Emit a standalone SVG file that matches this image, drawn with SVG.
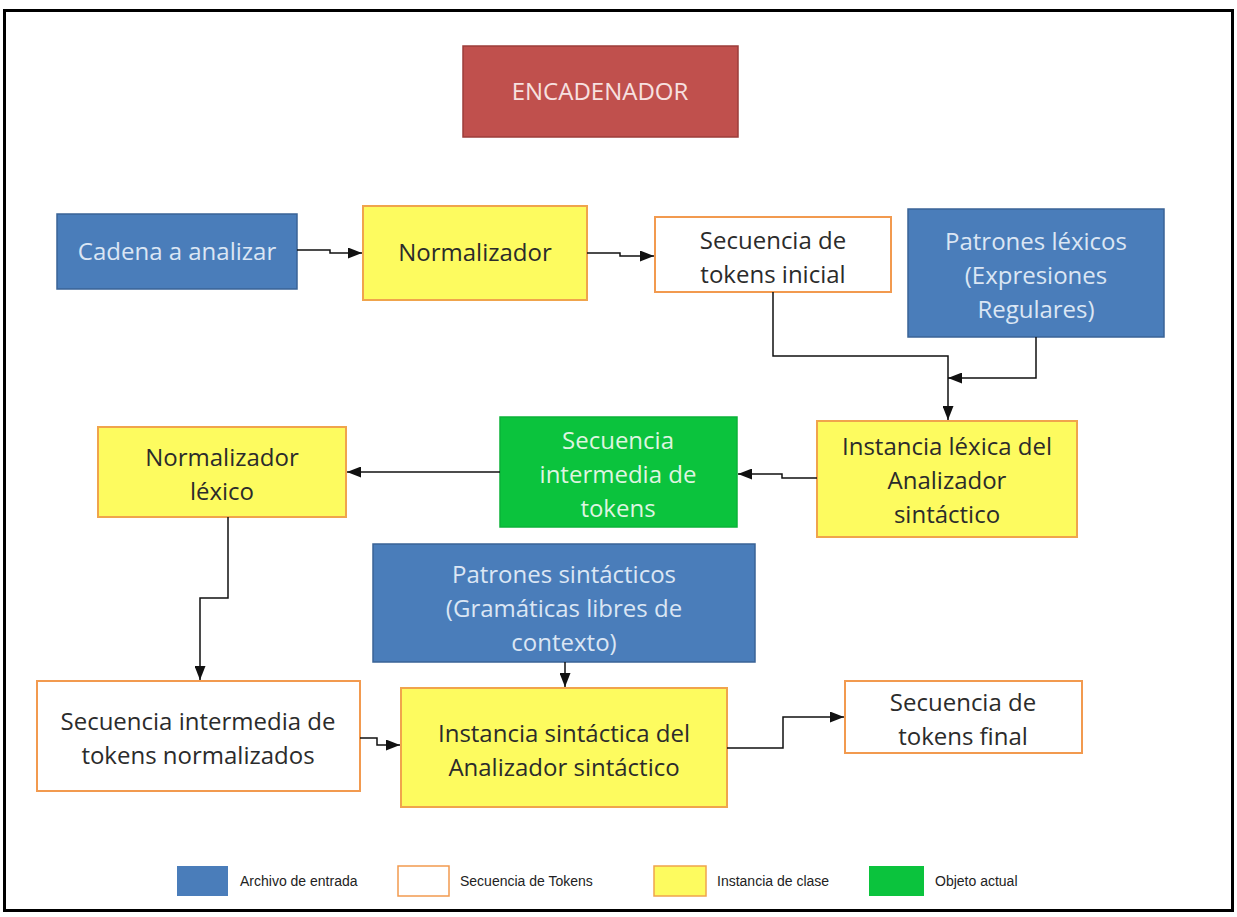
<svg xmlns="http://www.w3.org/2000/svg" width="1237" height="917" viewBox="0 0 1237 917">
  <style>
    .lbl { font-family: "Open Sans", "Noto Sans", sans-serif; font-size: 24px; text-anchor: middle; }
    .leg { font-family: "Liberation Sans", Arial, sans-serif; font-size: 14px; fill: #222; }
    .blue { fill: #4a7dba; stroke: #3a6396; stroke-width: 1.5; }
    .blue-t { fill: #dbe6f4; }
    .tok { fill: #ffffff; stroke: #f29a4f; stroke-width: 2; }
    .inst { fill: #fdfb5f; stroke: #f0a44c; stroke-width: 2; }
    .dark-t { fill: #2b2b2b; }
    .obj { fill: #0bc33d; stroke: #0bb339; stroke-width: 1.5; }
    .obj-t { fill: #def5e0; }
    .red { fill: #c0504d; stroke: #9c3d3a; stroke-width: 1.5; }
    .red-t { fill: #f7e1e0; }
    .wire { fill: none; stroke: #111; stroke-width: 1.5; marker-end: url(#arrow); }
  </style>
  <defs>
    <marker id="arrow" viewBox="0 0 14 11" refX="14" refY="5.5" markerWidth="14" markerHeight="11" markerUnits="userSpaceOnUse" orient="auto">
      <path d="M0,0 L14,5.5 L0,11 Z" fill="#111"/>
    </marker>
  </defs>

  <!-- canvas and frame -->
  <rect x="0" y="0" width="1237" height="917" fill="#ffffff"/>
  <rect x="4.5" y="10.5" width="1228" height="900" fill="#ffffff" stroke="#000" stroke-width="3"/>

  <g id="encadenador">
    <rect class="red" x="463" y="46" width="275" height="91"/>
    <text class="lbl red-t" x="600" y="100">ENCADENADOR</text>
  </g>

  <g id="cadena">
    <rect class="blue" x="57" y="214" width="240" height="75"/>
    <text class="lbl blue-t" x="177" y="260">Cadena a analizar</text>
  </g>

  <g id="normalizador">
    <rect class="inst" x="363" y="206" width="224" height="94"/>
    <text class="lbl dark-t" x="475" y="261">Normalizador</text>
  </g>

  <g id="secuencia-inicial">
    <rect class="tok" x="655" y="217" width="236" height="75"/>
    <text class="lbl dark-t" x="773" y="249">Secuencia de</text>
    <text class="lbl dark-t" x="773" y="283">tokens inicial</text>
  </g>

  <g id="patrones-lexicos">
    <rect class="blue" x="908" y="209" width="256" height="128"/>
    <text class="lbl blue-t" x="1036" y="250">Patrones léxicos</text>
    <text class="lbl blue-t" x="1036" y="284">(Expresiones</text>
    <text class="lbl blue-t" x="1036" y="318">Regulares)</text>
  </g>

  <g id="instancia-lexica">
    <rect class="inst" x="817" y="421" width="260" height="116"/>
    <text class="lbl dark-t" x="947" y="455">Instancia léxica del</text>
    <text class="lbl dark-t" x="947" y="489">Analizador</text>
    <text class="lbl dark-t" x="947" y="523">sintáctico</text>
  </g>

  <g id="secuencia-intermedia">
    <rect class="obj" x="500" y="417" width="237" height="110"/>
    <text class="lbl obj-t" x="618" y="449">Secuencia</text>
    <text class="lbl obj-t" x="618" y="483">intermedia de</text>
    <text class="lbl obj-t" x="618" y="517">tokens</text>
  </g>

  <g id="normalizador-lexico">
    <rect class="inst" x="98" y="427" width="248" height="90"/>
    <text class="lbl dark-t" x="222" y="466">Normalizador</text>
    <text class="lbl dark-t" x="222" y="500">léxico</text>
  </g>

  <g id="patrones-sintacticos">
    <rect class="blue" x="373" y="544" width="382" height="118"/>
    <text class="lbl blue-t" x="564" y="583">Patrones  sintácticos</text>
    <text class="lbl blue-t" x="564" y="617">(Gramáticas libres de</text>
    <text class="lbl blue-t" x="564" y="651">contexto)</text>
  </g>

  <g id="secuencia-normalizados">
    <rect class="tok" x="37" y="681" width="323" height="110"/>
    <text class="lbl dark-t" x="198" y="730">Secuencia intermedia de</text>
    <text class="lbl dark-t" x="198" y="764">tokens normalizados</text>
  </g>

  <g id="instancia-sintactica">
    <rect class="inst" x="401" y="688" width="326" height="119"/>
    <text class="lbl dark-t" x="564" y="742">Instancia sintáctica del</text>
    <text class="lbl dark-t" x="564" y="776">Analizador sintáctico</text>
  </g>

  <g id="secuencia-final">
    <rect class="tok" x="845" y="681" width="237" height="72"/>
    <text class="lbl dark-t" x="963" y="711">Secuencia de</text>
    <text class="lbl dark-t" x="963" y="745">tokens final</text>
  </g>

  <!-- flow between stages -->
  <g id="connectors">
    <path class="wire" d="M297,250 H330 V253 H362"/>
    <path class="wire" d="M587,253 H620 V256 H654"/>
    <path class="wire" d="M773,292 V356 H948 V420"/>
    <path class="wire" d="M1036,337 V378 H948"/>
    <path class="wire" d="M817,478 H782 V474 H738"/>
    <path class="wire" d="M500,472 H347"/>
    <path class="wire" d="M228,517 V598 H200 V680"/>
    <path class="wire" d="M565,662 V687"/>
    <path class="wire" d="M360,738 H377 V745 H400"/>
    <path class="wire" d="M727,748 H783 V717 H844"/>
  </g>

  <!-- colour key -->
  <g id="legend">
    <rect x="177" y="866" width="51" height="30" fill="#4a7dba"/>
    <text class="leg" x="240" y="886">Archivo de entrada</text>
    <rect x="398" y="866" width="51" height="30" fill="#fff" stroke="#f29a4f" stroke-width="1.5"/>
    <text class="leg" x="460" y="886">Secuencia de Tokens</text>
    <rect x="654" y="866" width="52" height="30" fill="#fdfb5f" stroke="#f0a44c" stroke-width="1.5"/>
    <text class="leg" x="717" y="886">Instancia de clase</text>
    <rect x="869" y="866" width="55" height="30" fill="#0bc33d"/>
    <text class="leg" x="935" y="886">Objeto actual</text>
  </g>
</svg>
